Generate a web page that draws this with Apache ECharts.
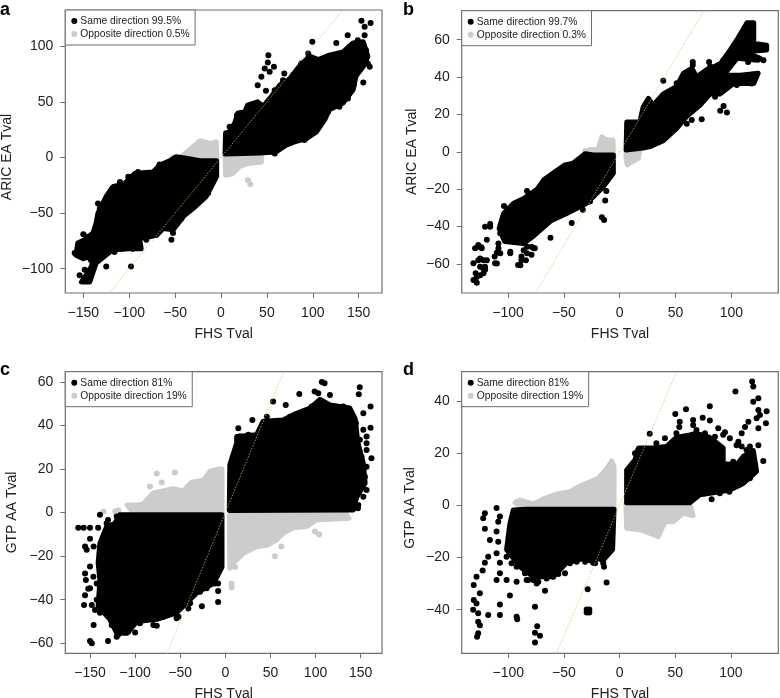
<!DOCTYPE html>
<html><head><meta charset="utf-8">
<script src="https://cdn.jsdelivr.net/npm/echarts@6/dist/echarts.min.js"></script>
<style>html,body{margin:0;padding:0;background:#fff}#c{width:780px;height:698px}</style>
</head><body><div id="c"></div>
<script>
// ---------- values (FHS Tval, other-cohort Tval) ----------
const ticksAX=[-150,-100,-50,0,50,100,150], ticksAY=[-100,-50,0,50,100];
const ticksBX=[-100,-50,0,50,100], ticksBY=[-60,-40,-20,0,20,40,60];
const ticksCX=[-150,-100,-50,0,50,100,150], ticksCY=[-60,-40,-20,0,20,40,60];
const ticksDX=[-100,-50,0,50,100], ticksDY=[-40,-20,0,20,40];
const identityLine=[[-200,-200],[200,200]];

// dense clouds are given as hand-read outlines of the point cloud
const aBlackPos=[[4.4,3],[5,22],[9,23],[15,31],[18.5,40],[26,41],[29,47],[40,50],[46,46],[55,55],[64,65],[75,71],[86,83],[97,91],[106,88],[118,92],[133,95],[144,103],[155,104],[160,91],[156,83],[147,73],[144,61],[133,49],[118,43],[113,34],[104,23],[93,17],[80,14],[71,11],[60,5],[42,4]];
const aBlackNeg=[[-4.7,-3],[-23,-3],[-38,-0.6],[-49,0.6],[-56,-3],[-67,-7],[-74,-13],[-88.6,-14],[-94,-14.4],[-105,-23.4],[-118,-26.4],[-125,-35],[-134,-50],[-136,-59],[-139.4,-68],[-148.5,-74],[-156,-77],[-158,-88],[-150,-91],[-139,-88],[-141,-98],[-152,-112],[-143,-112],[-136,-95],[-118,-83],[-99.5,-82],[-87,-82],[-88.6,-73],[-70,-70],[-63,-64],[-52,-65],[-41,-53],[-30.5,-46],[-16,-35],[-4.7,-17]];
const aGreyTop=[[-43,1],[-30.5,9.6],[-23,15],[-12,12.6],[-5,14],[-4.7,-3],[-23,-3],[-38,-0.6]];
const aGreyBottom=[[4.4,2],[44,2],[44,-4],[29,-5.4],[20,-8.4],[13,-14.4],[5,-16]];
const aBlackDots=[[51.6,92],[51,85.4],[47.6,80],[57.7,81.5],[53,77],[44,72.5],[40,65],[49,60],[69,75.5],[99.5,104],[125.6,103],[138,110],[153,123],[163,121],[156.5,117.5],[156.5,110],[160,84.5],[155,67.5],[162,81.5],[95,93.5],[-98,-98],[-125,-98],[-150,-69],[-54,-74],[-43,-55],
[9.4,27.6],[17.4,38],[29.4,45.6],[40,48.6],[58.5,60.5],[67.5,69.5],[78.4,74],[87.5,84.5],[94.8,89],[109.3,86],[120.2,90.5],[131,93.5],[140,99.5],[149,105.5],[158,96.5],[144.5,65],[138.3,53],[129,45.6],[116.6,41],[98.4,21.6],[91,15.6],[82,15.6],[58.5,3.6],[49,5],
[-134,-41.4],[-132,-46],[-116,-26.4],[-110,-22],[-101,-17.4],[-90.4,-13],[-81.3,-14.4],[-67,-6.3],[-154,-79],[-159.4,-86],[-146.7,-71],[-148.5,-101],[-154,-106],[-142,-92],[-116,-85],[-108.6,-82],[-96,-82],[-81.3,-74],[-74,-70],[-59.6,-62],[-52.3,-68],[-43,-53],[-34,-47],[-25,-40],[-14,-32]];
const aGreyDots=[[-52,0],[29.4,-20.4],[32,-24]];

const bBlackPos=[[5.7,1],[6.3,16],[18,16],[21,24],[25.7,28.6],[30,25],[39,31],[51,35],[57,42],[64.5,44.7],[69,40],[78,44],[90,47],[99,54.5],[105,60],[114,69],[120,69],[120,58],[131.6,57],[131.6,54.5],[111,53.6],[125.7,50],[124,49],[105,50],[93,41],[108,41],[124,42],[120,36.6],[102,36.6],[90,31],[81,31],[72,25],[60,19],[51,12.6],[39,6],[27,2.8],[21,2]];
const bBlackNeg=[[-5.7,-1.7],[-23.6,-1.7],[-31,-1],[-41.5,-6],[-49,-7],[-56.4,-10],[-68,-15],[-74,-20],[-86,-25],[-95,-27.5],[-104,-33],[-108,-41],[-103,-48],[-86,-49],[-77,-45],[-62,-37],[-47.5,-33],[-29.5,-27.5],[-14.6,-18.6],[-5.7,-11.5]];
const bGreyTop=[[-28,1],[-19,2],[-16,8],[-11.6,6.3],[-6,6.3],[-5.7,-1],[-23.6,-1],[-28,-1]];
const bGreyBottom=[[5.7,0.6],[18,0.6],[16.7,-3.5],[9,-6],[7,-7],[5.7,-4.4]];
const bBlackDots=[[39,38],[93,24.5],[90,22],[96,21],[73.4,17.4],[64.5,17],[60,15],[55.5,37.5],[65.4,48],[65.4,46.5],[80,48],[58.5,41.6],[115,48],[118,36.6],[-120.6,-40],[-116,-38.6],[-119,-47],[-126.6,-50.7],[-124,-51],[-129.5,-51.6],[-131,-59.6],[-126.6,-58],[-122,-58],[-119,-58],[-111.6,-59.6],[-110,-54],[-108.6,-49],[-112,-56],[-131,-68.6],[-128,-70],[-125,-66],[-129,-65],[-120.6,-63],[-123,-62],[-89,-60.6],[-88,-56],[-86,-52.6],[-77,-51.6],[-79,-55],[-98,-53.4],[-84,-58],[-43,-38],[-62,-46],[-33,-31],[-13,-26],[-12,-21],[-16,-35],[-14,-36.5],[-26.6,-26.6],[-103.6,-29],[-83,-21],
[-101,-34.7],[-102.7,-43.6],[-95,-48],[-98,-54.3],[-83,-50.7],[-79,-50.7],[-76,-51.6],[-91,-60.5],[-88,-58],[-83,-54.3],[-116,-40],[-107,-54.3],[-110,-59.7],[-107,-43.6],[-108.6,-51.6],[-120.6,-61.4],[-125,-61.4],[-128,-66.9],[-122,-65],[-126.6,-49.8],[-123.6,-51.6],[-125,-57],
[104.8,58.8],[110.7,62.5],[116.7,64.3],[118,62.5],[113.7,51.8],[128.7,49],[92.8,49],[88.4,46.5],[81,45.6],[72,41],[64.5,41],[51,36.7],[45,32],[85.4,29.5],[92.8,34],[104.8,35.8],[113.7,37.5]];
const bGreyDots=[[-31,0.5]];

const cBlackPos=[[4.4,1],[5,22],[12.6,32],[12.6,35],[34.7,35.7],[42,42],[64,42.5],[79,45.6],[94,48],[105,52],[116,49.4],[138,48],[144,43],[147,32],[153,22.6],[155,13.5],[145.5,7],[142,1.2]];
const cBlackNeg=[[-3.7,-1],[-117,-1],[-122.6,-5],[-131.5,-6.4],[-139,-14],[-141,-23],[-139,-31],[-141,-43],[-128,-49],[-120.4,-55.4],[-109,-55.4],[-98,-50],[-76,-49],[-54,-46],[-46.5,-43],[-32,-37],[-13,-32.5],[-3.7,-25]];
const cGreyTop=[[-109,3.5],[-96,3.5],[-91,4],[-80,9],[-69,10],[-58,11],[-46.5,10],[-37,14],[-24,15],[-17,19],[-6,20],[-3.7,20],[-3.7,-1],[-100,-1]];
const cGreyBottom=[[4.4,-1],[134.5,-1],[137,-2.6],[101,-3.4],[90,-6.4],[75,-7],[64,-9.5],[57,-12.5],[46,-15],[35,-15.6],[20,-18.7],[9,-23],[5,-25.5]];
const cBlackDots=[[53,51],[46,44],[30,42.5],[14.4,38.7],[67,49.4],[82,54.5],[99,55.6],[107,60],[110,59.4],[103,54.8],[116,54],[149,57.6],[148,54.3],[161,48.7],[161,39],[162,25],[156.6,28.8],[156.6,31.8],[153,45.6],[153,38],[156.6,35],[147,2],[-163,-7],[-157,-7],[-150,-7],[-141,-7],[-139,-1],[-130,-3.4],[-155.5,-15.6],[-153.7,-17],[-150,-12],[-155.5,-28],[-154.6,-31],[-152,-35],[-155.5,-38],[-156.6,-42.4],[-148,-42.4],[-144.4,-44.7],[-146,-51.6],[-150,-59],[-148,-60],[-130,-59],[-8,-41],[-26,-43],[-8,-36],[-8,-32.5],[-41,-44],[-54,-48.5],[-100,-55],[-76,-52],[-120.4,-57],
[16,35],[25.5,35.7],[45.8,41.8],[57,41.8],[71.7,44],[84.6,45.6],[95.7,48.7],[119.7,48.7],[130.8,48.7],[144.8,41],[149.2,33.4],[151,25.7],[151,18],[147.4,10.4],[138,2.8],[156.6,21],[154.8,16.5],[156.6,10.4],[153,7.3],[147.4,3.5],
[-120.4,-1.8],[-131.5,-4.9],[-135,-11],[-146,-15.6],[-139,-18.7],[-150,-24.8],[-146.3,-29.4],[-142.6,-32.5],[-150,-34.7],[-142.6,-40],[-139,-46],[-126,-51.6],[-118.6,-56],[-107.5,-54.6],[-94.6,-50.8],[-79.8,-51.6],[-68.7,-47.8],[-57.6,-46.2],[-52,-47.8],[-39,-41.6],[-28,-36.3],[-20.7,-34.7],[-11.5,-32.5]];
const cGreyDots=[[-76,18],[-56,18.4],[-70.5,13.8],[-83.5,12],[-135,0.5],[-122,0.5],[-118.6,1],[104,-10],[99.4,-8.7],[62,-15.6],[55,-20],[7,-32.5],[7,-34.3],[10.7,-25]];

const dBlackPos=[[6.3,1],[6.3,13.5],[13.8,17.4],[17,22],[30,22],[42,22.5],[51,26],[63,27],[69,27.6],[81,26],[93,22],[93,16],[105,15.5],[111,18.7],[120,21],[123,13],[111,8.4],[99,5.9],[81,4.6],[72,4],[63,1]];
const dBlackNeg=[[-5,-1.5],[-83.5,-1.5],[-95.5,-1.8],[-98.5,-7],[-101.5,-17],[-89.5,-23.5],[-77.5,-27.4],[-59.6,-27.4],[-47.6,-22],[-26.6,-19.7],[-14.7,-21],[-6.3,-17]];
const dGreyTop=[[-94,1],[-89.5,2],[-77.5,0.5],[-67,2.7],[-56.6,4.3],[-44.6,5.2],[-35.6,7.4],[-19,10.4],[-11.7,14],[-7,17],[-5,15],[-5,-1],[-86.5,-1]];
const dGreyBottom=[[5.7,0.8],[63,0.8],[66,-4],[57,-3],[48,-6.3],[40.7,-6.3],[34.7,-12],[27,-10.7],[20,-9.5],[6.3,-8.8]];
const dBlackDots=[[27,27.4],[50,35],[59.6,36.8],[53.6,30],[54,32],[66,32.7],[66,30.8],[74.6,33.6],[81,38],[81,32.5],[88.6,29.5],[94.6,28],[104,43.6],[119,47.4],[120,45.5],[124.6,41],[120,39.7],[132,36],[131.4,31.4],[124.6,36.5],[123,33.4],[126,34.6],[124.6,29.5],[112.6,30],[115.6,32],[109.6,27.6],[105,23],[129,17],[124.6,23],[117,22.5],[82.6,2.3],[90,4.6],[98.5,5.2],[106.6,7.8],[102,16.7],
[13.8,20],[16.8,21.2],[25.7,21.2],[33,23.8],[40.7,25.7],[51,27.6],[57,25.7],[69,28.9],[76.6,27.6],[85.6,26.3],[93,27],[99,25.7],[106.6,24.4],[109.6,22.5],[114,21.2],[121.6,15.5],[117,10.4],[108,9],[96,8.4],[87,6.5],[76.6,4.6],
[-121,-3],[-122.5,-5],[-121,-9],[-110.5,-1],[-107.5,-4.3],[-109,-6.3],[-110.5,-10],[-116.5,-13.3],[-109,-14],[-118,-19.7],[-121,-22],[-123,-25],[-110.5,-18.4],[-107.5,-22],[-110.5,-28.6],[-107.5,-26],[-128.5,-27.4],[-131,-30.5],[-125.5,-33.7],[-131,-36.3],[-128.5,-37.6],[-131.5,-40],[-127,-41.4],[-127,-44.6],[-125.5,-46],[-127,-49],[-128,-50.4],[-118,-42],[-107.5,-42],[-107.5,-38],[-98.5,-34.6],[-92.5,-42.7],[-92,-43.7],[-76,-38.9],[-74,-46.3],[-76,-48.8],[-76,-52.6],[-71.5,-50],[-74.5,-30],[-67,-32.7],[-92.5,-29.3],[-101.5,-28.6],[-82,-28.6],[-28.7,-32.2],[-29.6,-39.9],[-27.2,-41.1],[-29.6,-41.1],[-27.2,-39.9],[-11.7,-29.6],[-14,-23.5],[-23.7,-22],[-49,-26],[-55,-26.3],
[-101.5,-19.7],[-97,-22.2],[-92.5,-23.5],[-85,-26],[-83.5,-28.6],[-77.5,-28.6],[-73,-29.3],[-65.6,-28],[-59.6,-27.4],[-44.6,-22.2],[-38.6,-21.6],[-31,-21.6],[-26.6,-21],[-22,-22.2],[-14.7,-22.2]];
const dGreyDots=[[-92,1.5]];

// ---------- panel set-up ----------
const BLACK='#000', GREY='#cccccc', FRAME='#6e6e6e', TEXT='#222';
const FONT='"Liberation Sans", Arial, sans-serif';
const panels=[
 {id:'a',letterX:0,letterY:1,rect:[65.3,10,316.7,283],x:[-169.6,175.4],y:[-121.9,132.6],xt:ticksAX,yt:ticksAY,yName:'ARIC EA Tval',yGap:51,namePad:[0,11,0,0],same:'Same direction 99.5%',opp:'Opposite direction 0.5%',gb:[aBlackPos,aBlackNeg],gg:[aGreyTop,aGreyBottom],db:aBlackDots,dg:aGreyDots},
 {id:'b',letterX:403,letterY:1,rect:[461.7,10.7,316.6,282.3],x:[-141.5,142],y:[-75.5,75.5],xt:ticksBX,yt:ticksBY,yName:'ARIC EA Tval',yGap:43,namePad:0,same:'Same direction 99.7%',opp:'Opposite direction 0.3%',gb:[bBlackPos,bBlackNeg],gg:[bGreyTop,bGreyBottom],db:bBlackDots,dg:bGreyDots},
 {id:'c',letterX:0,letterY:361,rect:[65.3,371.7,316.7,281.6],x:[-177.4,173.7],y:[-64.6,64.7],xt:ticksCX,yt:ticksCY,yName:'GTP AA Tval',yGap:46,namePad:0,same:'Same direction 81%',opp:'Opposite direction 19%',gb:[cBlackPos,cBlackNeg],gg:[cGreyTop,cGreyBottom],db:cBlackDots,dg:cGreyDots},
 {id:'d',letterX:403,letterY:361,rect:[461.7,371.7,316.6,281.6],x:[-141.8,142.5],y:[-56.7,51.2],xt:ticksDX,yt:ticksDY,yName:'GTP AA Tval',yGap:45,namePad:[0,0,0,9],same:'Same direction 81%',opp:'Opposite direction 19%',gb:[dBlackPos,dBlackNeg],gg:[dGreyTop,dGreyBottom],db:dBlackDots,dg:dGreyDots}
];
const fmt=v=>String(v).replace('-','\u2212');
function cloud(name,pts,color,i,z){
  return {type:'custom',name,xAxisIndex:i,yAxisIndex:i,coordinateSystem:'cartesian2d',z,
    encode:{x:0,y:1},data:pts,silent:true,
    renderItem(p,api){
      if(p.dataIndex!==0) return;
      return {type:'polygon',shape:{points:pts.map(d=>api.coord(d))},
        style:{fill:color,stroke:color,lineWidth:5,lineJoin:'round'}};
    }};
}
const opt={animation:false,backgroundColor:'#fff',title:[],grid:[],xAxis:[],yAxis:[],legend:[],series:[]};
panels.forEach((p,i)=>{
  opt.title.push({text:p.id,left:p.letterX,top:p.letterY,padding:0,textStyle:{fontFamily:FONT,fontSize:18,fontWeight:'bold',color:'#000'}});
  opt.grid.push({left:p.rect[0],top:p.rect[1],width:p.rect[2],height:p.rect[3],show:true,borderColor:FRAME,borderWidth:1.2,backgroundColor:'#fff',containLabel:false,outerBoundsMode:'none'});
  const axisCommon={axisLine:{show:false,onZero:false},splitLine:{show:false},
    axisTick:{show:true,length:5,lineStyle:{color:FRAME,width:1}},nameLocation:'middle'};
  opt.xAxis.push(Object.assign({},axisCommon,{type:'value',position:'bottom',gridIndex:i,min:p.x[0],max:p.x[1],name:'FHS Tval',nameGap:34,
    nameTextStyle:{fontFamily:FONT,fontSize:14,color:TEXT},
    axisTick:Object.assign({},axisCommon.axisTick,{customValues:p.xt}),
    axisLabel:{customValues:p.xt,formatter:fmt,margin:13,fontFamily:FONT,fontSize:14,color:TEXT,hideOverlap:false}}));
  opt.yAxis.push(Object.assign({},axisCommon,{type:'value',position:'left',gridIndex:i,min:p.y[0],max:p.y[1],name:p.yName,nameGap:p.yGap,nameRotate:90,
    nameTextStyle:{fontFamily:FONT,fontSize:14,color:TEXT,padding:p.namePad},
    axisTick:Object.assign({},axisCommon.axisTick,{customValues:p.yt}),
    axisLabel:{customValues:p.yt,formatter:fmt,margin:12,fontFamily:FONT,fontSize:14,color:TEXT,hideOverlap:false}}));
  p.gg.forEach((g,k)=>opt.series.push(cloud(p.id+' opposite cloud '+k,g,GREY,i,2)));
  p.gb.forEach((g,k)=>opt.series.push(cloud(p.id+' same cloud '+k,g,BLACK,i,3)));
  opt.series.push({type:'scatter',name:p.opp,xAxisIndex:i,yAxisIndex:i,data:p.dg,symbol:'circle',symbolSize:6,z:2,silent:true,itemStyle:{color:GREY,opacity:1}});
  opt.series.push({type:'scatter',name:p.same,xAxisIndex:i,yAxisIndex:i,data:p.db,symbol:'circle',symbolSize:6,z:3,silent:true,itemStyle:{color:BLACK,opacity:1}});
  opt.series.push({type:'line',name:p.id+' identity',xAxisIndex:i,yAxisIndex:i,data:identityLine,showSymbol:false,z:4,silent:true,
    lineStyle:{color:'rgba(240,180,100,0.75)',width:1,type:[1.5,1.5]}});
  opt.legend.push({show:true,orient:'vertical',left:p.rect[0],top:p.rect[1],z:10,selectedMode:false,
    data:[{name:p.same,icon:'circle'},{name:p.opp,icon:'circle'}],
    itemWidth:6,itemHeight:6,itemGap:1,padding:[5,5.5,5,6],
    backgroundColor:'#fff',borderColor:FRAME,borderWidth:1,
    textStyle:{fontFamily:FONT,fontSize:10.3,color:TEXT,padding:[0,0,0,-2],lineHeight:12}});
});
const chart=echarts.init(document.getElementById('c'),null,{renderer:'canvas'});
chart.setOption(opt);
</script></body></html>
